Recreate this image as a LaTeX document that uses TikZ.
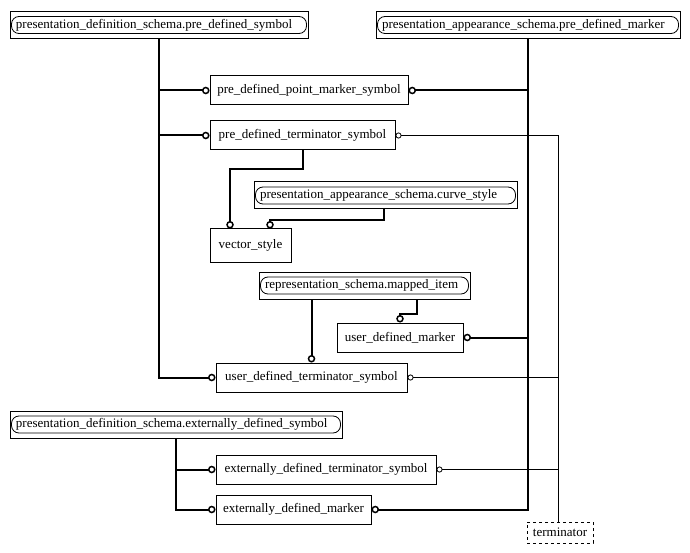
\documentclass[tikz,border=0pt]{standalone}
\usepackage{fontspec}
\setmainfont{Liberation Serif}
\usepackage{tikz}
\usetikzlibrary{arrows.meta}
\tikzstyle{NodeEntity}=[draw,rectangle,line width=1pt,inner sep=2pt,minimum height=29pt,
font=\fontsize{13}{15}\selectfont]
\tikzstyle{NodeSchema}=[NodeEntity,minimum height=27pt,inner xsep=6pt,align=left,path picture={\draw[line width=.8pt,rounded corners=7.5pt]
([xshift=1.5pt,yshift=5pt]path picture bounding box.south west) rectangle
([xshift=-1.5pt,yshift=-5pt]path picture bounding box.north east);}]
\tikzstyle{NodeTerminator}=[NodeEntity,dashed,minimum height=21pt]
\tikzstyle{EdgeThick}=[line width=2pt,-{Circle[open,length=7.5pt,line width=1.5pt]}]
\tikzstyle{EdgeThin}=[line width=.9pt,{Circle[open,length=6pt,line width=.8pt]}-]

\begin{document}
\begin{tikzpicture}[x=1pt,y=-1pt]
        \useasboundingbox(0,0)rectangle(690,553);
        \node[NodeSchema,text width=286pt](pdsSymbol)at(159,25){presentation\_definition\_schema.pre\_defined\_symbol};
        \node[NodeSchema,text width=292pt](pasMarker)at(528,25){presentation\_appearance\_schema.pre\_defined\_marker};
        \node[NodeEntity,minimum width=198pt](pointMarker)at(309,90.5){pre\_defined\_point\_marker\_symbol};
        \node[NodeEntity,minimum width=185pt](preTerm)at(302.5,135.5){pre\_defined\_terminator\_symbol};
        \node[NodeSchema,text width=251pt](curveStyle)at(385.5,195.5){presentation\_appearance\_schema.curve\_style};
        \node[NodeEntity,minimum width=81pt,minimum height=33pt](vectorStyle)at(250.5,245.5){vector\_style};
        \node[NodeSchema,text width=199pt](mappedItem)at(364.5,285.5){representation\_schema.mapped\_item};
        \node[NodeEntity,minimum width=126pt](userMarker)at(400,337.5){user\_defined\_marker};
        \node[NodeEntity,minimum width=191pt](userTerm)at(311.5,377.5){user\_defined\_terminator\_symbol};
        \node[NodeSchema,text width=320pt](pdsExt)at(176,424.5){presentation\_definition\_schema.externally\_defined\_symbol};
        \node[NodeEntity,minimum width=220pt](extTerm)at(326,469.5){externally\_defined\_terminator\_symbol};
        \node[NodeEntity,minimum width=155pt](extMarker)at(293.5,509.5){externally\_defined\_marker};
        \node[NodeTerminator,minimum width=66pt](terminator)at(560,532.5){terminator};
        \coordinate(termTop)at([xshift=-2pt]terminator.north);
        % pre_defined_symbol subtypes
        \draw[EdgeThick](pdsSymbol.south)|-(userTerm.west);
        \draw[EdgeThick](pdsSymbol.south|-pointMarker.west)--(pointMarker.west);
        \draw[EdgeThick](pdsSymbol.south|-preTerm.west)--(preTerm.west);
        % pre_defined_marker subtypes
        \draw[EdgeThick](pasMarker.south)|-(extMarker.east);
        \draw[EdgeThick](pasMarker.south|-pointMarker.east)--(pointMarker.east);
        \draw[EdgeThick](pasMarker.south|-userMarker.east)--(userMarker.east);
        % vector_style
        \draw[EdgeThick](preTerm.south)--++(0,19)-|([xshift=-20.5pt]vectorStyle.north);
        \draw[EdgeThick]([xshift=-1.5pt]curveStyle.south)--++(0,11)-|([xshift=19.5pt]vectorStyle.north);
        % mapped_item
        \draw[EdgeThick](mappedItem.south-|userTerm.north)--(userTerm.north);
        \draw[EdgeThick]([xshift=52.5pt]mappedItem.south)--++(0,14)-|(userMarker.north);
        % externally_defined_symbol subtypes
        \draw[EdgeThick](pdsExt.south)|-(extMarker.west);
        \draw[EdgeThick](pdsExt.south|-extTerm.west)--(extTerm.west);
        % terminator select
        \draw[EdgeThin](preTerm.east)-|(termTop);
        \draw[EdgeThin](userTerm.east)--(userTerm.east-|termTop);
        \draw[EdgeThin](extTerm.east)--(extTerm.east-|termTop);
    \end{tikzpicture}
\end{document}
